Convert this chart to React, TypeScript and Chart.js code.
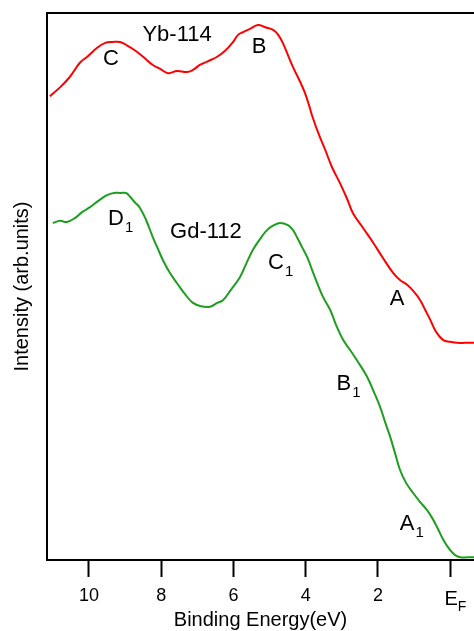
import React, { useEffect, useRef } from "react";
import { Chart, registerables } from "chart.js";

Chart.register(...registerables);

// Yb-114 spectrum (binding energy in eV, intensity arb. units)
const ybEnergy = [11.08,10.80,10.53,10.25,10.03,9.78,9.56,9.34,9.14,8.95,8.73,8.50,8.23,8.03,7.81,7.56,7.29,7.12,6.93,6.70,6.45,6.23,6.01,5.87,5.73,5.54,5.32,5.12,4.90,4.76,4.63,4.49,4.35,4.18,4.02,3.91,3.80,3.63,3.46,3.27,3.05,2.85,2.69,2.41,2.13,1.86,1.58,1.39,1.19,1.00,0.83,0.69,0.55,0.39,0.19,0.00,-0.19,-0.42,-0.66];
const ybIntensity = [84.8,86.4,88.3,90.9,92.1,93.6,94.5,94.7,94.7,94.1,93.2,92.0,90.5,89.8,89.0,89.4,89.2,89.6,90.5,91.2,92.0,93.1,94.7,96.0,96.5,97.1,97.8,97.4,96.9,96.0,94.5,92.3,90.1,87.8,85.4,83.2,80.8,77.7,75.0,71.8,68.9,66.0,63.4,60.7,58.0,55.2,52.5,51.2,50.3,49.0,47.5,45.7,43.9,41.7,40.2,39.9,39.7,39.7,39.7];

// Gd-112 spectrum
const gdEnergy = [11.00,10.80,10.61,10.39,10.19,9.97,9.75,9.50,9.31,9.14,8.97,8.86,8.73,8.59,8.42,8.23,8.09,7.95,7.76,7.56,7.34,7.12,6.90,6.65,6.45,6.29,6.07,5.82,5.65,5.46,5.26,5.07,4.88,4.71,4.49,4.35,4.24,4.10,3.96,3.82,3.68,3.52,3.32,3.16,2.96,2.77,2.55,2.30,2.11,1.94,1.80,1.66,1.52,1.39,1.22,1.02,0.83,0.64,0.50,0.36,0.19,0.00,-0.14,-0.28,-0.47,-0.66];
const gdIntensity = [61.6,62.0,61.8,62.5,63.6,64.5,65.6,66.7,67.1,67.1,67.1,66.4,65.4,64.4,62.2,59.0,56.9,54.8,52.5,50.6,48.6,47.0,46.4,46.3,47.0,47.5,49.4,51.7,54.1,56.7,58.7,60.3,61.2,61.6,61.2,60.3,59.0,57.2,55.4,53.0,50.6,48.1,45.7,43.0,40.2,38.4,36.2,33.5,30.7,28.0,25.2,22.5,19.4,16.5,14.1,12.2,10.6,9.1,7.7,6.0,3.7,1.8,0.9,0.5,0.5,0.5];

const tickValues = [0, 2, 4, 6, 8, 10];
const tickLabels = ["E", "2", "4", "6", "8", "10"];
const tickSubscripts = ["F", "", "", "", "", ""];

const annotationTexts = ["Yb-114", "C", "B", "D", "Gd-112", "C", "A", "B", "A"];
const annotationSubs = ["", "", "", "1", "", "1", "", "1", "1"];
const annotationEnergy = [7.56, 9.39, 5.29, 9.25, 6.76, 4.82, 1.47, 2.94, 1.19];
const annotationIntensity = [96.2, 91.8, 94.1, 62.7, 60.3, 54.5, 47.9, 32.5, 6.8];

const FONT = "'Liberation Sans', Arial, sans-serif";

const textPlugin = {
  id: "textPlugin",
  afterDraw(chart: any) {
    const ctx = chart.ctx;
    const xs = chart.scales.x;
    const ys = chart.scales.y;
    ctx.save();
    ctx.fillStyle = "#000";
    ctx.textBaseline = "alphabetic";
    for (let i = 0; i < annotationTexts.length; i++) {
      const px = xs.getPixelForValue(annotationEnergy[i]);
      const py = ys.getPixelForValue(annotationIntensity[i]);
      ctx.font = `22px ${FONT}`;
      const w = ctx.measureText(annotationTexts[i]).width;
      ctx.textAlign = "center";
      const base = py + 7.5;
      ctx.fillText(annotationTexts[i], px, base);
      if (annotationSubs[i]) {
        ctx.font = `15px ${FONT}`;
        ctx.textAlign = "left";
        ctx.fillText(annotationSubs[i], px + w / 2 + 1, base + 7);
      }
    }
    for (let i = 0; i < tickValues.length; i++) {
      if (!tickSubscripts[i]) continue;
      const px = xs.getPixelForValue(tickValues[i]);
      ctx.font = `20px ${FONT}`;
      ctx.textAlign = "center";
      const w = ctx.measureText(tickLabels[i]).width;
      ctx.fillText(tickLabels[i], px + 1, 605);
      ctx.font = `14px ${FONT}`;
      ctx.textAlign = "left";
      ctx.fillText(tickSubscripts[i], px + 1 + w / 2, 611);
    }
    ctx.restore();
  },
};

export default function App() {
  const ref = useRef<HTMLCanvasElement>(null);
  useEffect(() => {
    if (!ref.current) return;
    const chart = new Chart(ref.current, {
      type: "line",
      data: {
        datasets: [
          {
            label: "Yb-114",
            data: ybEnergy.map((e, i) => ({ x: e, y: ybIntensity[i] })),
            borderColor: "#ff0000",
            borderWidth: 2,
            pointRadius: 0,
            tension: 0.4,
            fill: false,
          },
          {
            label: "Gd-112",
            data: gdEnergy.map((e, i) => ({ x: e, y: gdIntensity[i] })),
            borderColor: "#1e9e1e",
            borderWidth: 2,
            pointRadius: 0,
            tension: 0.4,
            fill: false,
          },
        ],
      },
      options: {
        animation: false,
        responsive: false,
        layout: { padding: 0 },
        plugins: { legend: { display: false }, tooltip: { enabled: false } },
        scales: {
          x: {
            type: "linear",
            position: "bottom",
            min: -0.66,
            max: 11.16,
            reverse: true,
            afterBuildTicks: (scale: any) => {
              scale.ticks = tickValues.map((v) => ({ value: v }));
            },
            afterFit: (scale: any) => {
              scale.height = 71;
            },
            ticks: {
              autoSkip: false,
              maxRotation: 0,
              padding: 8,
              color: "#000",
              font: { family: FONT, size: 18 },
              callback: (v: any) => {
                const i = tickValues.indexOf(Number(v));
                if (i < 0 || tickSubscripts[i]) return "";
                return tickLabels[i];
              },
            },
            grid: {
              drawOnChartArea: false,
              drawTicks: true,
              tickLength: 17,
              tickWidth: 2,
              tickColor: "#000",
              color: "#000",
            },
            border: { display: true, color: "#000", width: 2 },
            title: {
              display: true,
              text: "Binding Energy(eV)",
              color: "#000",
              font: { family: FONT, size: 20 },
              padding: { top: 0, bottom: -1 },
            },
          },
          xTop: {
            type: "linear",
            position: "top",
            min: -0.66,
            max: 11.16,
            reverse: true,
            afterFit: (scale: any) => {
              scale.height = 13;
            },
            ticks: { display: false },
            grid: { drawOnChartArea: false, drawTicks: false },
            border: { display: true, color: "#000", width: 2 },
          },
          y: {
            type: "linear",
            position: "left",
            min: 0,
            max: 100,
            afterFit: (scale: any) => {
              scale.width = 47;
            },
            ticks: { display: false },
            grid: { drawOnChartArea: false, drawTicks: false },
            border: { display: true, color: "#000", width: 2 },
            title: {
              display: true,
              text: "Intensity (arb.units)",
              color: "#000",
              font: { family: FONT, size: 20 },
              padding: { top: 10, bottom: 0 },
            },
          },
        },
      },
      plugins: [textPlugin],
    });
    return () => chart.destroy();
  }, []);
  return (
    <div style={{ position: "absolute", left: 0, top: 0, width: 474, height: 631 }}>
      <canvas ref={ref} width={474} height={631} style={{ display: "block" }} />
    </div>
  );
}
